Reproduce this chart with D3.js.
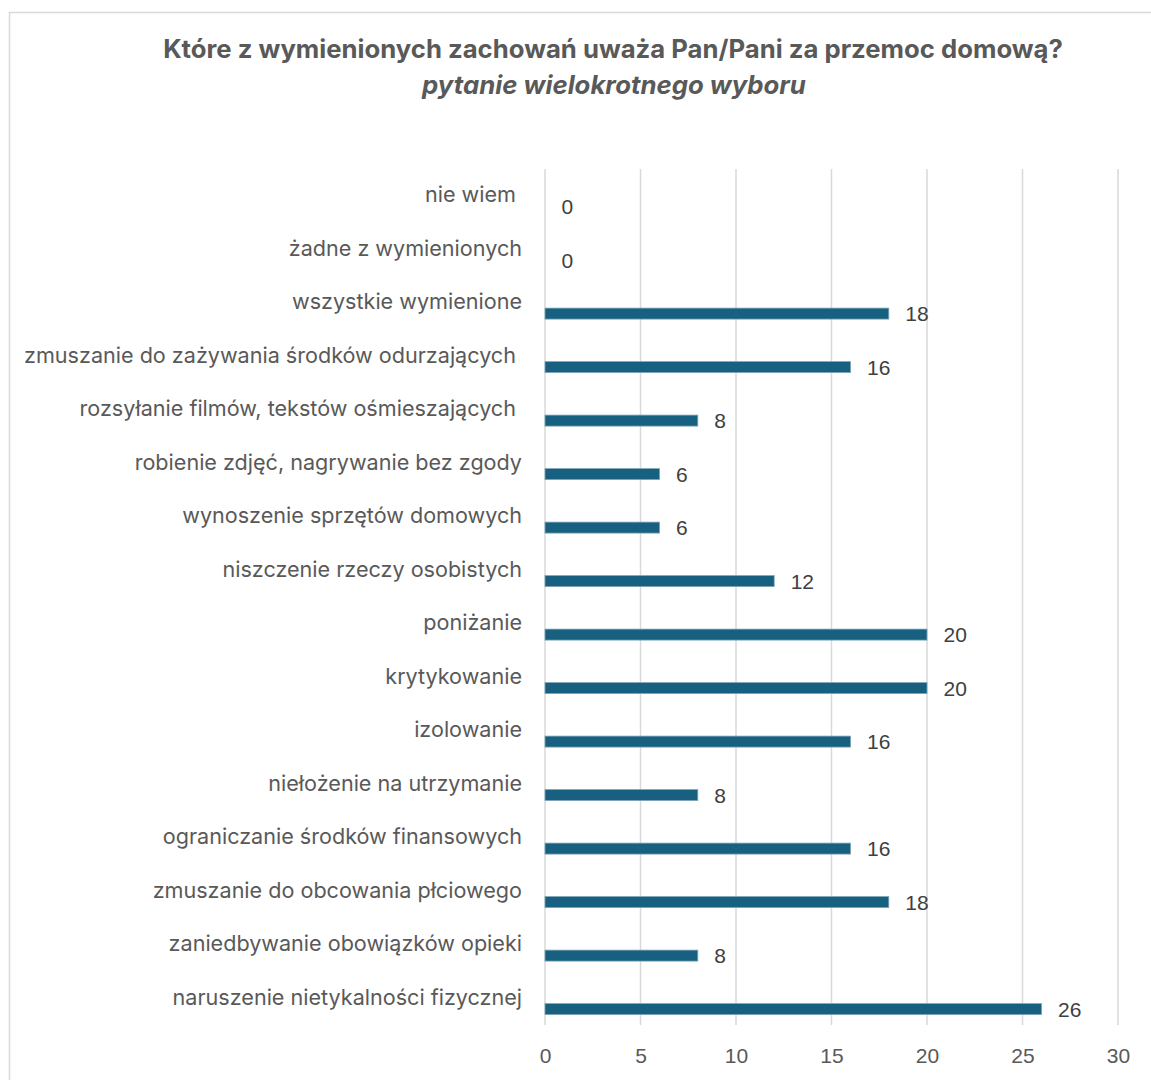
<!DOCTYPE html>
<html>
<head>
<meta charset="utf-8">
<script src="https://cdn.jsdelivr.net/npm/d3@7/dist/d3.min.js"></script>
<style>
  html, body { margin: 0; padding: 0; background: #fff; }
  svg text { white-space: pre; }
</style>
</head>
<body>
<svg id="chart" width="1151" height="1080"></svg>
<script>
const titleText = "Które z wymienionych zachowań uważa Pan/Pani za przemoc domową?";
const subtitleText = "pytanie wielokrotnego wyboru";

const categories = [
  "nie wiem ",
  "żadne z wymienionych",
  "wszystkie wymienione",
  "zmuszanie do zażywania środków odurzających ",
  "rozsyłanie filmów, tekstów ośmieszających ",
  "robienie zdjęć, nagrywanie bez zgody",
  "wynoszenie sprzętów domowych",
  "niszczenie rzeczy osobistych",
  "poniżanie",
  "krytykowanie",
  "izolowanie",
  "niełożenie na utrzymanie",
  "ograniczanie środków finansowych",
  "zmuszanie do obcowania płciowego",
  "zaniedbywanie obowiązków opieki",
  "naruszenie nietykalności fizycznej"
];
const values = [0, 0, 18, 16, 8, 6, 6, 12, 20, 20, 16, 8, 16, 18, 8, 26];
const xTicks = [0, 5, 10, 15, 20, 25, 30];

const svg = d3.select("#chart");
const textColor = "#595959";
const gridColor = "#d9d9d9";
const barColor = "#17607f";

// outer border
svg.append("rect")
  .attr("x", 9.5).attr("y", 12.5)
  .attr("width", 1200).attr("height", 1200)
  .attr("fill", "none").attr("stroke", gridColor).attr("stroke-width", 1.5);

const plot = { left: 545, right: 1118, top: 169, bottom: 1025 };

const x = d3.scaleLinear().domain([0, 30]).range([plot.left, plot.right]);
const y = d3.scaleBand().domain(categories).range([plot.top, plot.bottom]).paddingInner(0).paddingOuter(0);
const bw = y.bandwidth();
const barH = 11;
const barOffset = 0.6 * bw; // bar sits in lower part of each band

// gridlines
svg.append("g").selectAll("line").data(xTicks).join("line")
  .attr("x1", d => x(d)).attr("x2", d => x(d))
  .attr("y1", plot.top).attr("y2", plot.bottom)
  .attr("stroke", gridColor).attr("stroke-width", 1.5);

// x axis tick labels
const xAxis = d3.axisBottom(x).tickValues(xTicks).tickSize(0).tickPadding(0);
const gx = svg.append("g").attr("transform", `translate(0,${plot.bottom})`).call(xAxis);
gx.select(".domain").remove();
gx.selectAll("text")
  .attr("dy", null).attr("y", 38)
  .attr("fill", textColor)
  .style("font-family", "'Liberation Sans', Arial, sans-serif")
  .style("font-size", "21px");

// bars
svg.append("g").selectAll("rect").data(categories).join("rect")
  .attr("x", x(0))
  .attr("y", d => y(d) + barOffset)
  .attr("width", (d, i) => x(values[i]) - x(0))
  .attr("height", barH)
  .attr("fill", barColor)
  .attr("stroke", "#7fa6b8")
  .attr("stroke-width", (d, i) => values[i] > 0 ? 0.8 : 0);

// value labels
svg.append("g").selectAll("text").data(categories).join("text")
  .attr("x", (d, i) => x(values[i]) + 16.5)
  .attr("y", d => y(d) + barOffset + barH / 2 + 7.6)
  .attr("fill", "#404040")
  .style("font-family", "'Liberation Sans', Arial, sans-serif")
  .style("font-size", "21px")
  .text((d, i) => values[i]);

// category labels
const catFont = "Inter, 'Noto Sans', sans-serif";
const catG = svg.append("g");
const catLabels = catG.selectAll("text").data(categories).join("text")
  .attr("x", 522)
  .attr("y", d => y(d) + bw / 2 + 6.5)
  .attr("text-anchor", "end")
  .attr("xml:space", "preserve")
  .attr("fill", textColor)
  .style("font-family", catFont)
  .style("font-size", "20px")
  .text(d => d);

// fit category font so longest label width matches reference (~490px)
(function fitCats() {
  const probe = svg.append("text").style("font-family", catFont).style("font-size", "20px")
    .text("zmuszanie do zażywania środków odurzających");
  const w = probe.node().getComputedTextLength();
  probe.remove();
  const fs = 20 * 492 / w;
  catLabels.style("font-size", fs.toFixed(2) + "px");
})();

// titles
function fitText(sel, target) {
  const w = sel.node().getComputedTextLength();
  const fs = parseFloat(sel.style("font-size"));
  sel.style("font-size", (fs * target / w).toFixed(2) + "px");
}
const t1 = svg.append("text")
  .attr("x", 613).attr("y", 58)
  .attr("text-anchor", "middle")
  .attr("fill", textColor)
  .style("font-family", "Inter, 'Noto Sans', sans-serif")
  .style("font-weight", "700")
  .style("font-size", "21px")
  .text(titleText);
fitText(t1, 900);

const t2 = svg.append("text")
  .attr("x", 614).attr("y", 94)
  .attr("text-anchor", "middle")
  .attr("fill", textColor)
  .style("font-family", "Inter, 'Noto Sans', sans-serif")
  .style("font-weight", "700")
  .style("font-style", "italic")
  .style("font-size", "21px")
  .text(subtitleText);
fitText(t2, 384);
</script>
</body>
</html>
